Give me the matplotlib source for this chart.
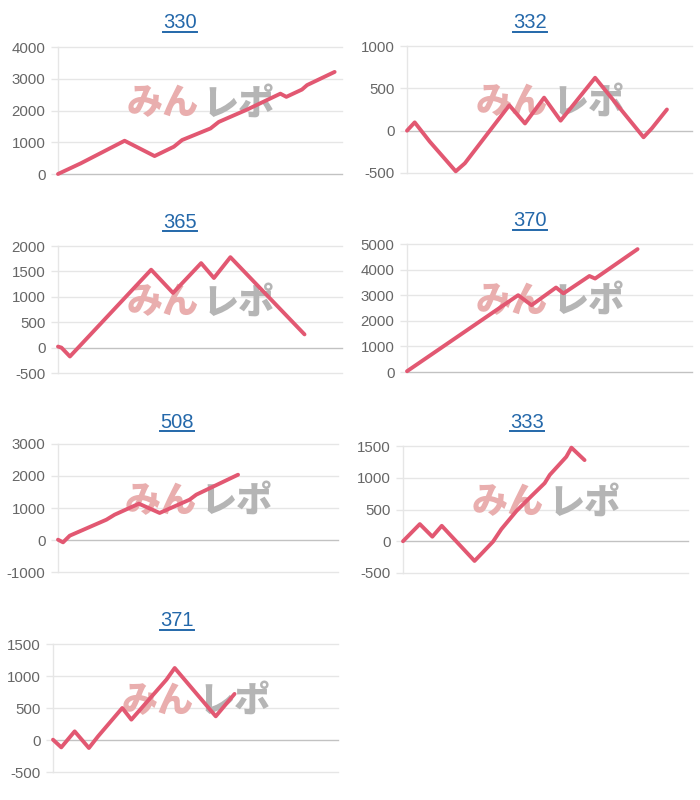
import matplotlib
matplotlib.use("Agg")
import matplotlib.pyplot as plt
from matplotlib.lines import Line2D

# ---------------- data ----------------
X_MAX = 10000  # games on the hidden x axis

titles = ["330", "332", "365", "370", "508", "333", "371"]

games_330 = [0, 800, 2345, 3400, 4080, 4370, 5370, 5660, 6660, 7830, 8040, 8590, 8770, 9740]
diff_330 = [0, 335, 1047, 565, 860, 1070, 1435, 1640, 2030, 2530, 2430, 2660, 2800, 3215]

games_332 = [0, 270, 800, 1710, 2030, 3590, 4140, 4810, 5390, 6600, 8300, 8590, 9120]
diff_332 = [0, 98, -130, -480, -385, 300, 85, 390, 118, 625, -78, 27, 250]

games_365 = [0, 120, 420, 3280, 4050, 5040, 5490, 6070, 8680]
diff_365 = [20, 0, -175, 1533, 1076, 1663, 1370, 1780, 260]

games_370 = [0, 3900, 4370, 5230, 5490, 6400, 6600, 8090]
diff_370 = [30, 3000, 2610, 3300, 3070, 3750, 3650, 4800]

games_508 = [0, 180, 420, 1730, 2020, 2890, 3630, 4700, 4940, 6430]
diff_508 = [10, -73, 135, 635, 790, 1135, 845, 1260, 1417, 2040]

games_333 = [0, 590, 1030, 1360, 2510, 2810, 3160, 3450, 3980, 4500, 4970, 5150, 5730, 5910, 6370]
diff_333 = [0, 270, 72, 243, -310, -170, -5, 190, 476, 709, 915, 1045, 1330, 1474, 1278]

games_371 = [0, 290, 760, 1260, 1580, 2430, 2750, 3980, 4270, 5710, 6370]
diff_371 = [5, -115, 135, -125, 57, 500, 318, 943, 1125, 370, 720]

yticks_330 = [0, 1000, 2000, 3000, 4000]
yticks_332 = [-500, 0, 500, 1000]
yticks_365 = [-500, 0, 500, 1000, 1500, 2000]
yticks_370 = [0, 1000, 2000, 3000, 4000, 5000]
yticks_508 = [-1000, 0, 1000, 2000, 3000]
yticks_333 = [-500, 0, 500, 1000, 1500]
yticks_371 = [-500, 0, 500, 1000, 1500]

series = [
    (games_330, diff_330, yticks_330),
    (games_332, diff_332, yticks_332),
    (games_365, diff_365, yticks_365),
    (games_370, diff_370, yticks_370),
    (games_508, diff_508, yticks_508),
    (games_333, diff_333, yticks_333),
    (games_371, diff_371, yticks_371),
]

# ---------------- layout (pixels) ----------------
W, H = 700, 800
boxes = [  # left, top, right, bottom of plot area
    (58, 47, 342, 174),
    (407, 46, 692, 173),
    (58, 246, 342, 373),
    (407, 244, 692, 372),
    (58, 444, 338, 572),
    (403, 446, 688, 573),
    (53, 644, 338, 772),
]
title_pos = [(180, 23), (530, 23), (180, 222), (530, 221), (177, 422), (527, 422), (177, 621)]

LINE = "#e25872"
GRID = "#e6e6e6"
ZERO = "#c2c2c2"
TICK_TXT = "#666666"
TITLE_C = "#2468aa"

plt.rcParams["font.family"] = ["Liberation Sans", "DejaVu Sans"]

fig = plt.figure(figsize=(W / 100, H / 100), dpi=100)
fig.patch.set_facecolor("white")

title_objs = []
for (gx, dy, yt), (l, t, r, b), (tx, ty), title in zip(series, boxes, title_pos, titles):
    ax = fig.add_axes([l / W, 1 - b / H, (r - l) / W, (b - t) / H])
    ax.set_facecolor("none")
    ax.set_xlim(0, X_MAX)
    ax.set_ylim(yt[0], yt[-1])
    ax.set_yticks(yt)
    ax.set_yticklabels([str(v) for v in yt])
    ax.set_xticks([])
    for s in ["top", "right", "bottom"]:
        ax.spines[s].set_visible(False)
    ax.spines["left"].set_color(GRID)
    ax.spines["left"].set_linewidth(1)
    ax.tick_params(axis="y", length=5, width=1, color=GRID, pad=4,
                   labelsize=10.8, labelcolor=TICK_TXT)
    for v in yt:
        ax.axhline(v, color=ZERO if v == 0 else GRID, lw=1, zorder=1, clip_on=False)

    # watermark logo text
    ax.text(0.495, 0.555, "みん", transform=ax.transAxes, ha="right", va="center",
            fontsize=26, fontweight="heavy", color="#e9aeae",
            family=["Noto Sans CJK JP"], zorder=2)
    ax.text(0.51, 0.555, "レポ", transform=ax.transAxes, ha="left", va="center",
            fontsize=26, fontweight="heavy", color="#b5b5b5",
            family=["Noto Sans CJK JP"], zorder=2)

    ax.plot(gx, dy, color=LINE, lw=2.8, solid_joinstyle="round",
            solid_capstyle="round", zorder=3, clip_on=False)

    tobj = fig.text(tx / W, 1 - ty / H, title, ha="center", va="center",
                    fontsize=14.5, color=TITLE_C)
    title_objs.append(tobj)

# underline the titles (they look like links)
fig.canvas.draw()
renderer = fig.canvas.get_renderer()
for tobj in title_objs:
    bb = tobj.get_window_extent(renderer=renderer)
    y = (bb.y0 + 1) / H
    fig.add_artist(Line2D([bb.x0 / W, bb.x1 / W], [y, y], color=TITLE_C, lw=1.4))

fig.savefig("out.png", dpi=100, facecolor="white")
